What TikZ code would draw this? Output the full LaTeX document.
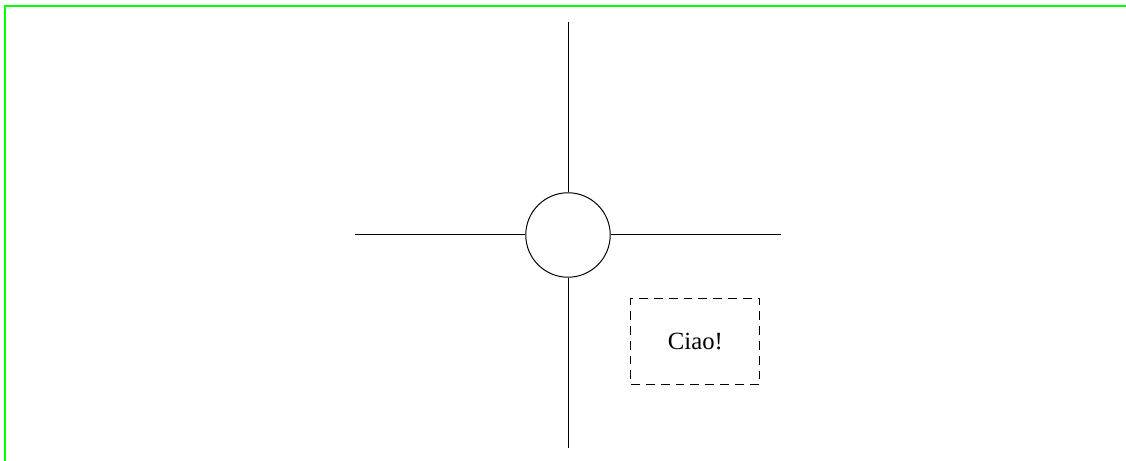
\documentclass[tikz,border=0pt]{standalone}
\usepackage{fontspec}
\setmainfont{Liberation Serif}
\definecolor{FrameGreen}{HTML}{00FF00}

\begin{document}
\begin{tikzpicture}[
    hub/.style={draw,circle,minimum size=1.2cm,inner sep=0pt},
    note/.style={draw,dash pattern=on 3.6pt off 2.4pt,minimum width=1.83cm,minimum height=1.22cm,align=center},
    spoke/.style={draw,thin},
    frame/.style={draw=FrameGreen,line width=0.8pt}
  ]
    \useasboundingbox (-8.071,-3.211) rectangle (7.929,3.339);
    \clip (-8.071,-3.211) rectangle (7.929,3.339);
    \draw[frame] (-8,-3.6) rectangle (8.3,3.25);
    \node[hub] (hub) at (0,0) {};
    \coordinate (top) at (0,3.03);
    \coordinate (bottom) at (0,-3.03);
    \coordinate (left) at (-3.03,0);
    \coordinate (right) at (3.03,0);
    \draw[spoke] (top) -- (hub);
    \draw[spoke] (bottom) -- (hub);
    \draw[spoke] (left) -- (hub);
    \draw[spoke] (right) -- (hub);
    \node[note] (ciao) at (1.81,-1.51) {Ciao!};
  \end{tikzpicture}
\end{document}
